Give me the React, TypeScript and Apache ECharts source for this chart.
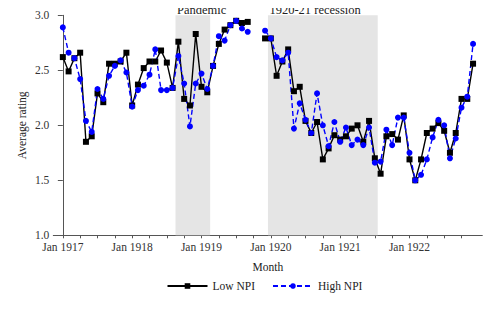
import React, { useEffect, useRef } from "react";
import * as echarts from "echarts";

// Monthly observations, Jan 1917 (index 0) to Dec 1922 (index 71); null = no data
const lowNPI: (number | null)[] = [
  2.62, 2.49, 2.61, 2.66, 1.85, 1.90, 2.29, 2.21, 2.56, 2.56, 2.58, 2.66,
  2.18, 2.37, 2.52, 2.58, 2.58, 2.68, 2.57, 2.34, 2.76, 2.24, 2.18, 2.83,
  2.35, 2.30, 2.54, 2.74, 2.87, 2.91, 2.95, 2.93, 2.94, null, null, 2.79,
  2.79, 2.45, 2.58, 2.69, 2.31, 2.35, 2.04, 1.93, 2.03, 1.69, 1.79, 1.91,
  1.87, 1.90, 1.97, 2.00, 1.85, 2.04, 1.70, 1.56, 1.90, 1.92, 1.87, 2.09,
  1.69, 1.50, 1.69, 1.93, 1.97, 2.02, 1.95, 1.75, 1.93, 2.24, 2.24, 2.56,
];
const highNPI: (number | null)[] = [
  2.89, 2.66, 2.61, 2.42, 2.04, 1.94, 2.33, 2.24, 2.45, 2.54, 2.59, 2.48,
  2.17, 2.32, 2.36, 2.46, 2.69, 2.32, 2.32, 2.34, 2.63, 2.38, 1.99, 2.38,
  2.47, 2.33, 2.54, 2.81, 2.77, 2.91, 2.95, 2.88, 2.85, null, null, 2.86,
  2.79, 2.62, 2.59, 2.66, 1.97, 2.20, 2.05, 1.93, 2.29, 2.00, 1.81, 2.03,
  1.85, 1.98, 1.82, 1.87, 1.82, 1.98, 1.66, 1.67, 1.96, 1.82, 2.07, 2.07,
  1.75, 1.50, 1.55, 1.69, 1.89, 2.05, 2.00, 1.70, 1.88, 2.16, 2.26, 2.74,
];
const seriesNames = ["Low NPI", "High NPI"];
const yearLabels = ["Jan 1917", "Jan 1918", "Jan 1919", "Jan 1920", "Jan 1921", "Jan 1922"];
const yearLabelIdx = [0, 12, 24, 36, 48, 60];
const quarterTickIdx = [0, 3, 6, 9, 12, 15, 18, 21, 24, 27, 30, 33, 36, 39, 42, 45, 48, 51, 54, 57, 60, 63, 66, 69];
// shaded periods (month index, half-month padding)
const periods = [
  { name: "Pandemic", from: 19.5, to: 25.5 },
  { name: "1920-21 recession", from: 35.5, to: 54.5 },
];

const FONT = "Liberation Serif";

export default function App() {
  const ref = useRef<HTMLDivElement>(null);
  useEffect(() => {
    const chart = echarts.init(ref.current!, null, { renderer: "svg" });
    const toPairs = (arr: (number | null)[]) => arr.map((v, i) => [i, v]);
    chart.setOption({
      animation: false,
      textStyle: { fontFamily: FONT },
      grid: { left: 53.3, right: 15.7, top: 15.3, bottom: 76.7 },
      xAxis: {
        type: "value",
        min: -1.65,
        max: 72.6,
        name: "Month",
        nameLocation: "middle",
        nameGap: 26,
        nameMoveOverlap: false,
        nameTextStyle: { fontFamily: FONT, fontSize: 11.5, color: "#222" },
        axisLine: { show: true, lineStyle: { color: "#555", width: 1 } },
        axisTick: { show: true, length: 3, customValues: quarterTickIdx, lineStyle: { color: "#555" } },
        axisLabel: {
          customValues: yearLabelIdx,
          formatter: (v: number) => yearLabels[yearLabelIdx.indexOf(Math.round(v))] ?? "",
          fontFamily: FONT,
          fontSize: 11.5,
          color: "#333",
          margin: 6,
        },
        splitLine: { show: false },
      },
      yAxis: {
        type: "value",
        min: 1,
        max: 3,
        interval: 0.5,
        name: "Average rating",
        nameLocation: "middle",
        nameGap: 25,
        nameMoveOverlap: false,
        nameTextStyle: { fontFamily: FONT, fontSize: 11.5, color: "#222" },
        axisLine: { show: true, lineStyle: { color: "#555", width: 1 } },
        axisTick: { show: true, length: 5, lineStyle: { color: "#555" } },
        axisLabel: {
          formatter: (v: number) => v.toFixed(1),
          fontFamily: FONT,
          fontSize: 11.5,
          color: "#333",
          margin: 4,
        },
        splitLine: { show: false },
      },
      legend: {
        left: 166.5,
        top: 280,
        padding: 0,
        itemWidth: 40,
        itemHeight: 7,
        itemGap: 17,
        textStyle: { fontFamily: FONT, fontSize: 11.5, color: "#222" },
        data: seriesNames,
      },
      series: [
        {
          name: seriesNames[0],
          type: "line",
          data: toPairs(lowNPI),
          symbol: "rect",
          symbolSize: 6,
          itemStyle: { color: "#000" },
          lineStyle: { color: "#000", width: 1.4 },
          connectNulls: false,
          markArea: {
            silent: true,
            itemStyle: { color: "#e5e5e5" },
            label: { show: false },
            data: periods.map((p) => [{ name: p.name, xAxis: p.from }, { xAxis: p.to }]),
          },
        },
        {
          name: seriesNames[1],
          type: "line",
          data: toPairs(highNPI),
          symbol: "circle",
          symbolSize: 6,
          itemStyle: { color: "#0000ff" },
          lineStyle: { color: "#0000ff", width: 1.4, type: [5, 3] },
          connectNulls: false,
        },
      ],
    });
    // period captions above the shaded areas, positioned through the x axis scale
    chart.setOption({
      graphic: periods.map((p) => ({
        type: "text",
        x: (chart.convertToPixel({ xAxisIndex: 0 }, p.from) as number) + 1.5,
        y: 3.5,
        style: {
          text: p.name,
          fontFamily: FONT,
          fontSize: 12.5,
          fill: "#222",
          textAlign: "left",
          textVerticalAlign: "top",
        },
      })),
    });
    return () => chart.dispose();
  }, []);
  return <div ref={ref} style={{ width: 498, height: 312, margin: -8 }} />;
}
